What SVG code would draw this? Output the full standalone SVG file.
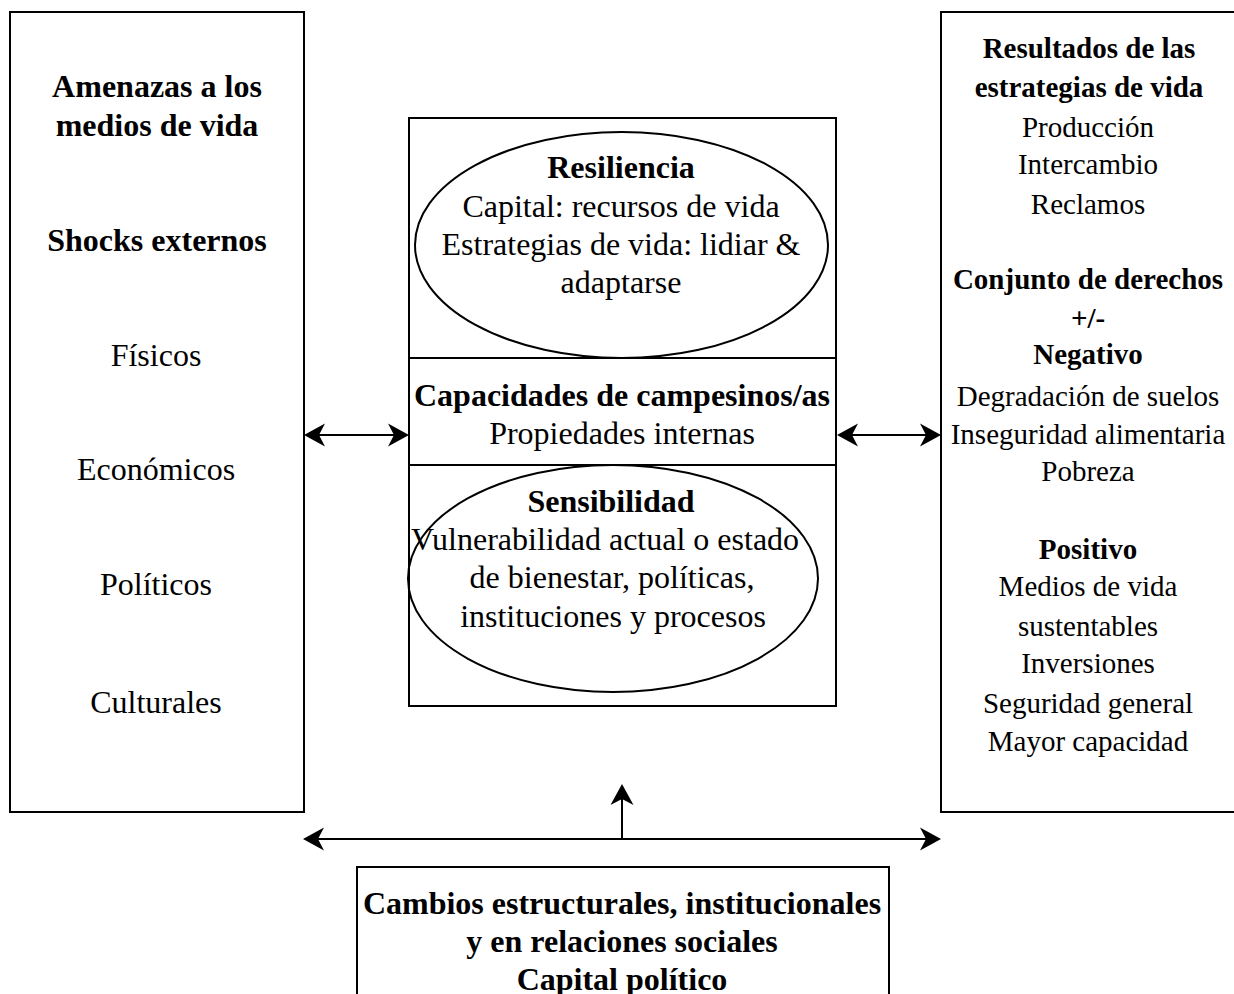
<svg xmlns="http://www.w3.org/2000/svg" width="1234" height="994" viewBox="0 0 1234 994">
<style>
.box{fill:#fff;stroke:#000;stroke-width:2}
.ell{fill:none;stroke:#000;stroke-width:2}
.line{fill:none;stroke:#000;stroke-width:2}
text{font-family:"Liberation Serif","Times New Roman",serif;fill:#000;text-anchor:middle}
.b{font-weight:bold}
.t32{font-size:32px}
.t29{font-size:29px}
</style>
<defs>
<marker id="ah" viewBox="-22 -12 26 24" refX="-3" refY="0" markerWidth="26" markerHeight="24" markerUnits="userSpaceOnUse" orient="auto-start-reverse">
<path d="M0,0 L-21,-11.5 L-15,0 L-21,11.5 Z" fill="#000"/>
</marker>
</defs>
<rect width="1234" height="994" fill="#fff"/>

<g id="amenazas">
<rect class="box" x="10" y="12" width="294" height="800"/>
<text class="t32 b" x="157" y="97">Amenazas a los</text>
<text class="t32 b" x="157" y="136">medios de vida</text>
<text class="t32 b" x="157" y="251">Shocks externos</text>
<text class="t32" x="156" y="366">Físicos</text>
<text class="t32" x="156" y="480">Económicos</text>
<text class="t32" x="156" y="595">Políticos</text>
<text class="t32" x="156" y="713">Culturales</text>
</g>

<g id="resultados">
<rect class="box" x="941" y="12" width="300" height="800"/>
<text class="t29 b" x="1089" y="58">Resultados de las</text>
<text class="t29 b" x="1089" y="97">estrategias de vida</text>
<text class="t29" x="1088" y="137">Producción</text>
<text class="t29" x="1088" y="174">Intercambio</text>
<text class="t29" x="1088" y="214">Reclamos</text>
<text class="t29 b" x="1088" y="289">Conjunto de derechos</text>
<text class="t29 b" x="1088" y="328">+/-</text>
<text class="t29 b" x="1088" y="364">Negativo</text>
<text class="t29" x="1088" y="406">Degradación de suelos</text>
<text class="t29" x="1088" y="444">Inseguridad alimentaria</text>
<text class="t29" x="1088" y="481">Pobreza</text>
<text class="t29 b" x="1088" y="559">Positivo</text>
<text class="t29" x="1088" y="596">Medios de vida</text>
<text class="t29" x="1088" y="636">sustentables</text>
<text class="t29" x="1088" y="673">Inversiones</text>
<text class="t29" x="1088" y="713">Seguridad general</text>
<text class="t29" x="1088" y="751">Mayor capacidad</text>
</g>

<g id="capacidades">
<rect class="box" x="409" y="118" width="427" height="588"/>
<line class="line" x1="409" y1="358" x2="836" y2="358"/>
<line class="line" x1="409" y1="465" x2="836" y2="465"/>
<text class="t32 b" x="622" y="406">Capacidades de campesinos/as</text>
<text class="t32" x="622" y="444">Propiedades internas</text>
</g>

<g id="resiliencia">
<ellipse class="ell" cx="621.5" cy="245" rx="206.5" ry="113"/>
<text class="t32 b" x="621" y="178">Resiliencia</text>
<text class="t32" x="621" y="217">Capital: recursos de vida</text>
<text class="t32" x="621" y="255">Estrategias de vida: lidiar &amp;</text>
<text class="t32" x="621" y="293">adaptarse</text>
</g>

<g id="sensibilidad">
<ellipse class="ell" cx="613" cy="578.5" rx="205" ry="113.5"/>
<text class="t32 b" x="611" y="512">Sensibilidad</text>
<text class="t32" x="605" y="550">Vulnerabilidad actual o estado</text>
<text class="t32" x="612" y="588">de bienestar, políticas,</text>
<text class="t32" x="613" y="627">instituciones y procesos</text>
</g>

<g id="cambios">
<rect class="box" x="357" y="867" width="532" height="140"/>
<text class="t32 b" x="622" y="914">Cambios estructurales, institucionales</text>
<text class="t32 b" x="622" y="952">y en relaciones sociales</text>
<text class="t32 b" x="622" y="990">Capital político</text>
</g>

<g id="connectors">
<line class="line" x1="307" y1="435" x2="406" y2="435" marker-start="url(#ah)" marker-end="url(#ah)"/>
<line class="line" x1="840" y1="435" x2="938" y2="435" marker-start="url(#ah)" marker-end="url(#ah)"/>
<line class="line" x1="306" y1="839" x2="938" y2="839" marker-start="url(#ah)" marker-end="url(#ah)"/>
<line class="line" x1="622" y1="838" x2="622" y2="787" marker-end="url(#ah)"/>
</g>
</svg>
